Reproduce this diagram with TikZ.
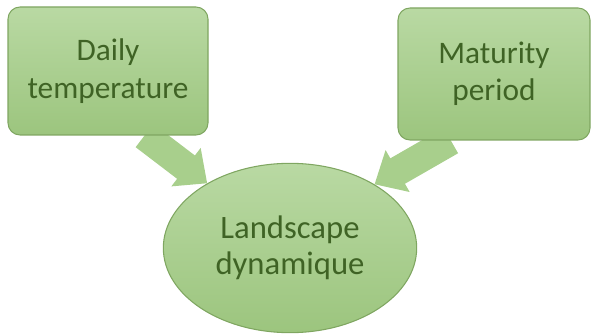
\documentclass[tikz,border=0pt]{standalone}
\usepackage{xcolor}
\usepackage{fontspec}
\setmainfont{Carlito}
\usepackage{tikz}
\usetikzlibrary{shapes.geometric,arrows.meta,backgrounds}

\definecolor{boxtop}{HTML}{B9D9A3}
\definecolor{boxbot}{HTML}{9CC57E}
\definecolor{boxline}{HTML}{7FA661}
\definecolor{txtgreen}{HTML}{3F6325}
\definecolor{arrowfill}{HTML}{A8CF8C}

\tikzset{
  greenbox/.style={draw=boxline, line width=0.8pt, rounded corners=9pt,
    top color=boxtop, bottom color=boxbot, align=center, text=txtgreen,
    font=\fontsize{23.5}{28}\selectfont},
  greenoval/.style={ellipse, draw=boxline, line width=0.8pt,
    top color=boxtop, bottom color=boxbot, align=center, text=txtgreen,
    font=\fontsize{24.5}{27}\selectfont, inner sep=0pt},
  bigarrow/.style={draw=arrowfill, line width=22pt,
    -{Triangle[width=35pt,length=20pt]}}
}

\begin{document}
\begin{tikzpicture}[x=0.75pt,y=0.75pt,yscale=-1,xscale=1]
        \useasboundingbox (0,0) rectangle (592,334);

        \node [greenbox, minimum width=150pt, minimum height=96pt] (daily) at (108,71) {Daily\\temperature};
        \node [greenbox, minimum width=144pt, minimum height=99pt] (maturity) at (494,74) {Maturity\\period};
        \node [greenoval, minimum width=190pt, minimum height=127pt] (land) at (290,248) {Landscape\\dynamique};

        \begin{scope}[on background layer]
        \draw [bigarrow] ([xshift=-48pt]daily.south east) -- (land.142);
        \draw [bigarrow] ([xshift=40pt]maturity.south west) -- (land.37);
        \end{scope}
    \end{tikzpicture}
\end{document}
